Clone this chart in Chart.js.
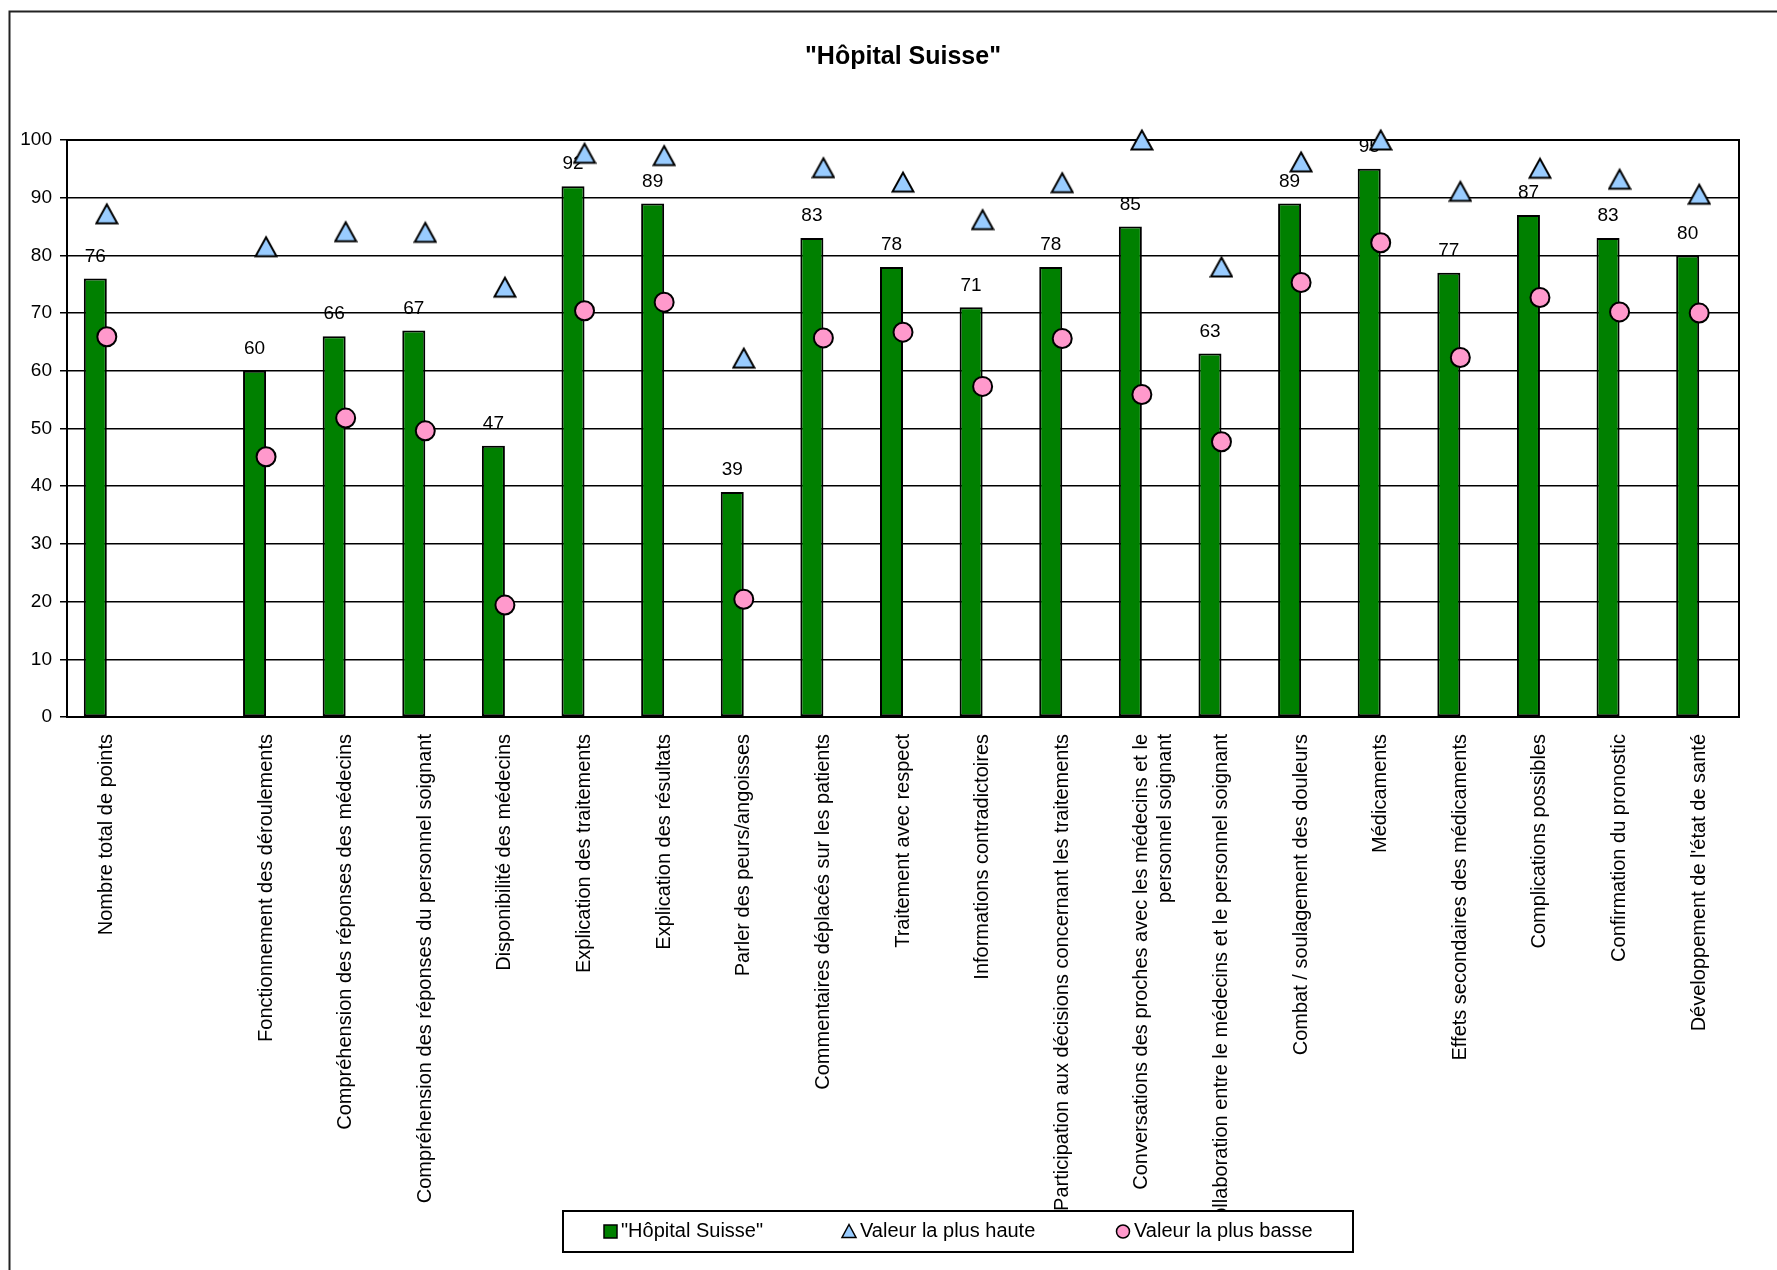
<!DOCTYPE html>
<html>
<head>
<meta charset="utf-8">
<title>"Hôpital Suisse"</title>
<script src="https://cdn.jsdelivr.net/npm/chart.js@4.4.1/dist/chart.umd.min.js"></script>
<style>
    html, body { margin: 0; padding: 0; background: #fff; overflow: hidden; }
    #wrap { width: 1777px; height: 1270px; }
</style>
</head>
<body>
<div id="wrap"><canvas id="chart" width="1777" height="1270"></canvas></div>
<script>
const FONT = '"Liberation Sans", Arial, sans-serif';

const categories = [
    'Nombre total de points',
    '',
    'Fonctionnement des déroulements',
    'Compréhension des réponses des médecins',
    'Compréhension des réponses du personnel soignant',
    'Disponibilité des médecins',
    'Explication des traitements',
    'Explication des résultats',
    'Parler des peurs/angoisses',
    'Commentaires déplacés sur les patients',
    'Traitement avec respect',
    'Informations contradictoires',
    'Participation aux décisions concernant les traitements',
    ['Conversations des proches avec les médecins et le', 'personnel soignant'],
    'Collaboration entre le médecins et le personnel soignant',
    'Combat / soulagement des douleurs',
    'Médicaments',
    'Effets secondaires des médicaments',
    'Complications possibles',
    'Confirmation du pronostic',
    "Développement de l'état de santé"
];

const hospitalScores = [76, null, 60, 66, 67, 47, 92, 89, 39, 83, 78, 71, 78, 85, 63, 89, 95, 77, 87, 83, 80];
const highestValues = [87.2, null, 81.5, 84.1, 84.0, 74.5, 97.7, 97.3, 62.2, 95.2, 92.7, 86.2, 92.6, 100, 78.0, 96.2, 100, 91.1, 95.1, 93.2, 90.6];
const lowestValues = [65.9, null, 45.1, 51.8, 49.6, 19.4, 70.4, 71.9, 20.4, 65.7, 66.7, 57.3, 65.6, 55.9, 47.7, 75.3, 82.2, 62.3, 72.7, 70.2, 70.0];

const seriesNames = ['"Hôpital Suisse"', 'Valeur la plus haute', 'Valeur la plus basse'];
const titleText = '"Hôpital Suisse"';

// triangle marker centred on its bounding box (the built-in one sits on its circumcentre)
function makeTriangle() {
    const c = document.createElement('canvas');
    c.width = 24;
    c.height = 24;
    const g = c.getContext('2d');
    g.fillStyle = '#99CCFF';
    g.strokeStyle = '#000';
    g.lineWidth = 2;
    g.lineJoin = 'miter';
    g.beginPath();
    g.moveTo(12, 2.5);
    g.lineTo(22.5, 21.5);
    g.lineTo(1.5, 21.5);
    g.closePath();
    g.fill();
    g.stroke();
    return c;
}

// white page, outer frame, title and the box round the plot area
const framePlugin = {
    id: 'frame',
    beforeDraw(chart) {
        const ctx = chart.ctx;
        ctx.save();
        ctx.fillStyle = '#fff';
        ctx.fillRect(0, 0, chart.width, chart.height);
        ctx.strokeStyle = '#222';
        ctx.lineWidth = 2;
        ctx.beginPath();
        ctx.moveTo(9.5, chart.height);
        ctx.lineTo(9.5, 11.5);
        ctx.lineTo(chart.width, 11.5);
        ctx.stroke();
        const a = chart.chartArea;
        ctx.fillStyle = '#000';
        ctx.font = 'bold 25px ' + FONT;
        ctx.textAlign = 'center';
        ctx.textBaseline = 'middle';
        ctx.fillText(titleText, (a.left + a.right) / 2, 57);
        ctx.restore();
    },
    beforeDatasetsDraw(chart) {
        const a = chart.chartArea;
        const ctx = chart.ctx;
        ctx.save();
        ctx.strokeStyle = '#000';
        ctx.lineWidth = 2;
        ctx.strokeRect(a.left, a.top, a.right - a.left, a.bottom - a.top);
        ctx.restore();
    }
};

// value above each bar, drawn before the markers so they sit on top
const barValuePlugin = {
    id: 'barValues',
    afterDatasetDraw(chart, args) {
        if (args.index !== 2) return;
        const ctx = chart.ctx;
        ctx.save();
        ctx.fillStyle = '#000';
        ctx.font = '19px ' + FONT;
        ctx.textAlign = 'center';
        ctx.textBaseline = 'middle';
        args.meta.data.forEach((bar, i) => {
            const v = hospitalScores[i];
            if (v == null) return;
            ctx.fillText(String(v), bar.x, bar.y - 22);
        });
        ctx.restore();
    }
};

// boxed legend under the axis labels
const legendBoxPlugin = {
    id: 'legendBox',
    afterDraw(chart) {
        const ctx = chart.ctx;
        const box = { x: 563, y: 1211, w: 790, h: 41 };
        const cy = box.y + box.h / 2;
        ctx.save();
        ctx.fillStyle = '#fff';
        ctx.fillRect(box.x, box.y, box.w, box.h);
        ctx.strokeStyle = '#000';
        ctx.lineWidth = 2;
        ctx.strokeRect(box.x, box.y, box.w, box.h);

        ctx.lineWidth = 1.5;
        // bar swatch
        ctx.fillStyle = '#008000';
        ctx.fillRect(604, cy - 6.5, 13, 13);
        ctx.strokeRect(604, cy - 6.5, 13, 13);
        // triangle
        ctx.fillStyle = '#99CCFF';
        ctx.beginPath();
        ctx.moveTo(849, cy - 7);
        ctx.lineTo(856, cy + 6);
        ctx.lineTo(842, cy + 6);
        ctx.closePath();
        ctx.fill();
        ctx.stroke();
        // circle
        ctx.fillStyle = '#FF99CC';
        ctx.beginPath();
        ctx.arc(1123, cy, 6.5, 0, Math.PI * 2);
        ctx.fill();
        ctx.stroke();

        ctx.fillStyle = '#000';
        ctx.font = '20px ' + FONT;
        ctx.textAlign = 'left';
        ctx.textBaseline = 'middle';
        ctx.fillText(seriesNames[0], 621, cy);
        ctx.fillText(seriesNames[1], 860, cy);
        ctx.fillText(seriesNames[2], 1134, cy);
        ctx.restore();
    }
};

new Chart(document.getElementById('chart'), {
    type: 'bar',
    data: {
        labels: categories,
        datasets: [
            {
                type: 'line',
                label: seriesNames[1],
                data: highestValues,
                showLine: false,
                pointStyle: makeTriangle(),
                pointRadius: 12,
                backgroundColor: '#99CCFF',
                borderColor: '#000',
                clip: false,
                order: 0
            },
            {
                type: 'line',
                label: seriesNames[2],
                data: lowestValues,
                showLine: false,
                pointStyle: 'circle',
                pointRadius: 9.5,
                pointBackgroundColor: '#FF99CC',
                pointBorderColor: '#000',
                pointBorderWidth: 2,
                backgroundColor: '#FF99CC',
                borderColor: '#000',
                clip: false,
                order: 0
            },
            {
                label: seriesNames[0],
                data: hospitalScores,
                backgroundColor: '#008000',
                borderColor: '#000',
                borderWidth: 2,
                borderSkipped: false,
                categoryPercentage: 0.578,
                barPercentage: 1,
                order: 1
            },
            {
                // empty second slot, keeps each bar left of its category centre
                label: '',
                data: categories.map(() => null),
                categoryPercentage: 0.578,
                barPercentage: 1,
                order: 1
            }
        ]
    },
    options: {
        responsive: false,
        animation: false,
        devicePixelRatio: 1,
        layout: { padding: { top: 140, right: 38, left: 0, bottom: 0 } },
        plugins: {
            legend: { display: false },
            title: { display: false },
            tooltip: { enabled: false }
        },
        scales: {
            x: {
                grid: { display: false },
                border: { display: true, color: '#000', width: 2 },
                ticks: {
                    autoSkip: false,
                    minRotation: 90,
                    maxRotation: 90,
                    padding: 9,
                    color: '#000',
                    font: { size: 20, family: FONT }
                },
                afterFit: (scale) => { scale.height = 553; }
            },
            y: {
                min: 0,
                max: 100,
                ticks: {
                    stepSize: 10,
                    padding: 8,
                    color: '#000',
                    font: { size: 19, family: FONT }
                },
                grid: { color: '#000', lineWidth: 1.5, tickLength: 7, drawTicks: true },
                border: { display: true, color: '#000', width: 2 },
                afterFit: (scale) => { scale.width = 67; }
            }
        }
    },
    plugins: [framePlugin, barValuePlugin, legendBoxPlugin]
});
</script>
</body>
</html>
